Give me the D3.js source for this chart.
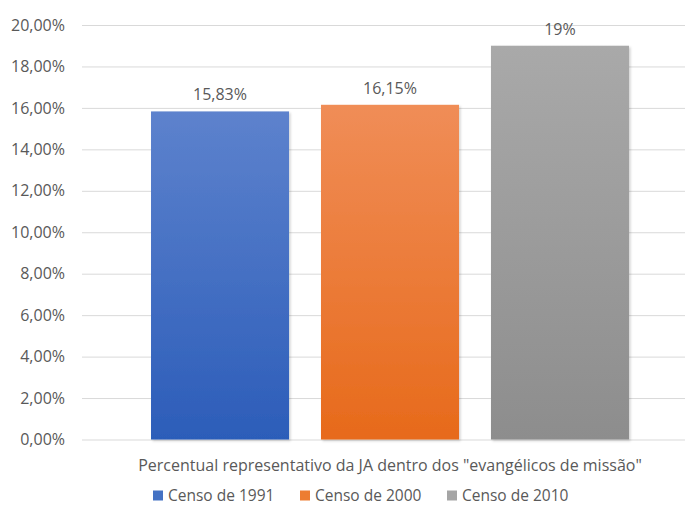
<!DOCTYPE html>
<html><head><meta charset="utf-8">
<script src="https://cdn.jsdelivr.net/npm/d3@7"></script>
<style>body{margin:0;background:#fff}svg{display:block}text{font-family:"Open Sans",sans-serif;fill:#595959}</style>
</head><body>
<svg id="c" width="685" height="505"></svg>
<script>
const series = ["Censo de 1991", "Censo de 2000", "Censo de 2010"];
const values = [15.83, 16.15, 19];
const valueLabels = ["15,83%", "16,15%", "19%"];
const yTicks = [0, 2, 4, 6, 8, 10, 12, 14, 16, 18, 20];
const yTickLabels = ["0,00%","2,00%","4,00%","6,00%","8,00%","10,00%","12,00%","14,00%","16,00%","18,00%","20,00%"];
const category = 'Percentual representativo da JA dentro dos "evangélicos de missão"';
const colorsTop = ["#5d82cd", "#f08d57", "#a9a9a9"];
const colorsBottom = ["#2c5db9", "#e76a1b", "#8d8d8d"];
const legendColors = ["#4472c4", "#ed7d31", "#a5a5a5"];

const svg = d3.select("#c");
const x = d3.scaleBand().domain(series).range([82, 698]).paddingInner(0.188).paddingOuter(0.406);
const y = d3.scaleLinear().domain([0, 20]).range([439.5, 25]);

const defs = svg.append("defs");
series.forEach((s, i) => {
  const g = defs.append("linearGradient").attr("id", "g" + i).attr("x1", 0).attr("y1", 0).attr("x2", 0).attr("y2", 1);
  g.append("stop").attr("offset", "0%").attr("stop-color", colorsTop[i]);
  g.append("stop").attr("offset", "100%").attr("stop-color", colorsBottom[i]);
});
const f = defs.append("filter").attr("id", "sh").attr("x", "-10%").attr("y", "-10%").attr("width", "130%").attr("height", "130%");
f.append("feDropShadow").attr("dx", 1.5).attr("dy", 1.5).attr("stdDeviation", 1.2).attr("flood-color", "#000").attr("flood-opacity", 0.18);

// grid
const yAxis = d3.axisLeft(y).tickValues(yTicks).tickFormat((d, i) => yTickLabels[i]).tickSize(-(685 - 82)).tickPadding(17);
const ga = svg.append("g").attr("transform", "translate(82,0)").call(yAxis);
ga.select(".domain").remove();
ga.selectAll(".tick line").attr("stroke", "#d9d9d9").attr("stroke-width", 1);
ga.selectAll(".tick text").style("font-size", "16px").attr("fill", "#595959");

// bars
svg.append("g").selectAll("rect").data(series).join("rect")
  .attr("x", d => x(d)).attr("width", x.bandwidth())
  .attr("y", (d, i) => y(values[i])).attr("height", (d, i) => y(0) - y(values[i]))
  .attr("fill", (d, i) => `url(#g${i})`).attr("filter", "url(#sh)");

// value labels
svg.append("g").selectAll("text").data(series).join("text")
  .attr("x", d => x(d) + x.bandwidth() / 2).attr("y", (d, i) => y(values[i]) - 11)
  .attr("text-anchor", "middle").style("font-size", "16px").attr("fill", "#404040")
  .text((d, i) => valueLabels[i]);

// category label
svg.append("text").attr("x", 390).attr("y", 471).attr("text-anchor", "middle")
  .style("font-size", "16px").text(category);

// legend
const lx = [153, 300, 447];
const lg = svg.append("g").selectAll("g").data(series).join("g").attr("transform", (d, i) => `translate(${lx[i]},495)`);
lg.append("rect").attr("x", 0).attr("y", -4.5).attr("width", 10).attr("height", 10).attr("fill", (d, i) => legendColors[i]);
lg.append("text").attr("x", 15).attr("y", 6).style("font-size", "15.5px").text(d => d);
</script>
</body></html>
